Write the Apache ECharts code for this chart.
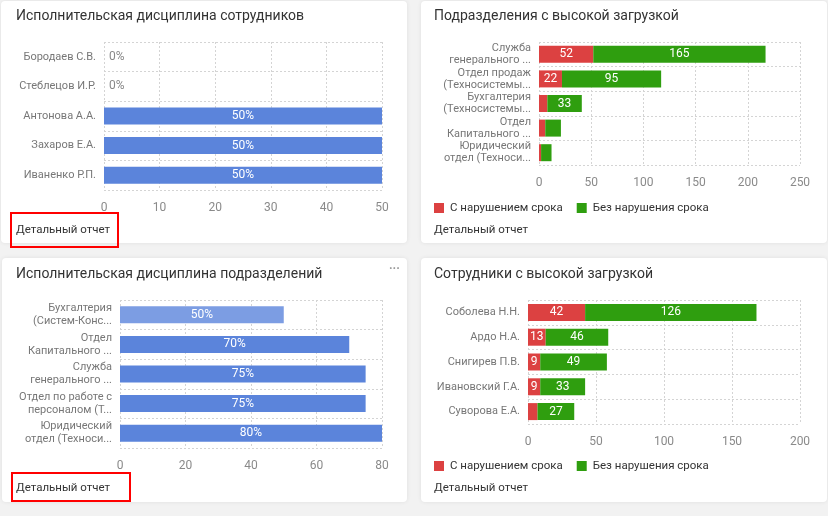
<!DOCTYPE html>
<html>
<head>
<meta charset="utf-8">
<script src="https://cdn.jsdelivr.net/npm/echarts@6/dist/echarts.min.js"></script>
<style>
html,body{margin:0;padding:0;background:#f2f2f2;}
#c{width:828px;height:516px;}
</style>
</head>
<body>
<div id="c"></div>
<script>
// ---- data ----
const empCategories = ['Бородаев С.В.', 'Стеблецов И.Р.', 'Антонова А.А.', 'Захаров Е.А.', 'Иваненко Р.П.'];
const empDiscipline = [0, 0, 50, 50, 50];

const deptLoadCategories = ['Служба\nгенерального ...', 'Отдел продаж\n(Техносистемы...', 'Бухгалтерия\n(Техносистемы...', 'Отдел\nКапитального ...', 'Юридический\nотдел (Техноси...'];
const deptLoadLate = [52, 22, 8, 6, 2];
const deptLoadOnTime = [165, 95, 33, 15, 10];

const deptDiscCategories = ['Бухгалтерия\n(Систем-Конс...', 'Отдел\nКапитального ...', 'Служба\nгенерального ...', 'Отдел по работе с\nперсоналом (Т...', 'Юридический\nотдел (Техноси...'];
const deptDiscipline = [50, 70, 75, 75, 80];

const empLoadCategories = ['Соболева Н.Н.', 'Ардо Н.А.', 'Снигирев П.В.', 'Ивановский Г.А.', 'Суворова Е.А.'];
const empLoadLate = [42, 13, 9, 9, 7];
const empLoadOnTime = [126, 46, 49, 33, 27];

const seriesNames = ['С нарушением срока', 'Без нарушения срока'];
const titles = ['Исполнительская дисциплина сотрудников', 'Подразделения с высокой загрузкой', 'Исполнительская дисциплина подразделений', 'Сотрудники с высокой загрузкой'];
const reportText = 'Детальный отчет';

// ---- styles ----
const FONT = 'Roboto';
const BLUE = '#5b84db', BLUE_LIGHT = '#7c9de3', RED = '#dc4141', GREEN = '#2f9e0f';
const splitStyle = {show: true, lineStyle: {color: '#d4d4d4', type: [2, 2], width: 1}};

function valueAxis(gi, max, interval) {
  return {
    type: 'value', gridIndex: gi, min: 0, max: max, interval: interval,
    axisLine: {show: false}, axisTick: {show: false},
    axisLabel: {color: '#8a8a8a', fontSize: 12, fontFamily: FONT, margin: 12},
    splitLine: splitStyle
  };
}
function catAxis(gi, cats, lh) {
  return {
    type: 'category', gridIndex: gi, data: cats, inverse: true,
    axisLine: {show: false}, axisTick: {show: false},
    axisLabel: {color: '#777', fontSize: 11, fontFamily: FONT, margin: 8, lineHeight: lh || 13},
    splitLine: splitStyle
  };
}
const lblWhite = {show: true, color: '#fff', fontSize: 12, fontFamily: FONT};

const panels = [[1, 1, 406, 242], [421, 1, 406, 242], [2, 258, 405, 244], [421, 258, 406, 244]];
const graphics = panels.map(p => ({
  type: 'rect', z: -10, shape: {x: p[0], y: p[1], width: p[2], height: p[3], r: 4},
  style: {fill: '#fff', shadowBlur: 4, shadowColor: 'rgba(0,0,0,0.08)'}
}));
const reportPos = [[16, 230], [434, 230], [16, 488], [434, 488]];
reportPos.forEach(p => graphics.push({
  type: 'text', x: p[0], y: p[1], z: 10,
  style: {text: reportText, fill: '#333', font: '11.5px "' + FONT + '"', verticalAlign: 'middle'}
}));
graphics.push({type: 'rect', z: 10, shape: {x: 11, y: 213, width: 107, height: 34}, style: {fill: 'none', stroke: '#f00', lineWidth: 2}});
graphics.push({type: 'rect', z: 10, shape: {x: 12, y: 473, width: 118, height: 28}, style: {fill: 'none', stroke: '#f00', lineWidth: 2}});
graphics.push({type: 'text', x: 389, y: 270, z: 10, style: {text: '···', fill: '#999', font: 'bold 12px "' + FONT + '"', verticalAlign: 'middle'}});

const titlePos = [[16, 9], [434, 9], [16, 267], [434, 267]];

const legendBase = {itemWidth: 10, itemHeight: 10, itemGap: 14, icon: 'rect', padding: 0, data: seriesNames,
  textStyle: {color: '#333', fontSize: 11.5, fontFamily: FONT, padding: [0, 0, 0, 1]}};

const option = {
  backgroundColor: '#f2f2f2',
  animation: false,
  textStyle: {fontFamily: FONT},
  title: titles.map((t, i) => ({
    text: t, left: titlePos[i][0], top: titlePos[i][1], padding: 0,
    textStyle: {fontSize: 14, fontWeight: 'normal', color: '#333', fontFamily: FONT}
  })),
  legend: [
    Object.assign({left: 434, top: 202}, legendBase),
    Object.assign({left: 434, top: 460}, legendBase)
  ],
  graphic: {elements: graphics},
  grid: [
    {left: 104, top: 42, width: 278, height: 148},
    {left: 539, top: 42, width: 261, height: 123},
    {left: 120, top: 300, width: 262, height: 148},
    {left: 528, top: 300, width: 272, height: 124}
  ],
  xAxis: [valueAxis(0, 50, 10), valueAxis(1, 250, 50), valueAxis(2, 80, 20), valueAxis(3, 200, 50)],
  yAxis: [catAxis(0, empCategories), catAxis(1, deptLoadCategories, 12), catAxis(2, deptDiscCategories, 13), catAxis(3, empLoadCategories)],
  series: [
    {type: 'bar', xAxisIndex: 0, yAxisIndex: 0, barWidth: 17, itemStyle: {color: BLUE},
     label: Object.assign({}, lblWhite, {position: 'inside', formatter: '{c}%'}),
     data: empDiscipline.map(v => v === 0 ? {value: v, label: {position: 'insideLeft', color: '#888'}} : v)},
    {type: 'bar', name: seriesNames[0], xAxisIndex: 1, yAxisIndex: 1, stack: 'a', barWidth: 17, itemStyle: {color: RED},
     label: Object.assign({}, lblWhite, {position: 'inside', formatter: p => p.value >= 20 ? p.value : ''}), data: deptLoadLate},
    {type: 'bar', name: seriesNames[1], xAxisIndex: 1, yAxisIndex: 1, stack: 'a', barWidth: 17, itemStyle: {color: GREEN},
     label: Object.assign({}, lblWhite, {position: 'inside', formatter: p => p.value >= 20 ? p.value : ''}), data: deptLoadOnTime},
    {type: 'bar', xAxisIndex: 2, yAxisIndex: 2, barWidth: 17, itemStyle: {color: BLUE},
     label: Object.assign({}, lblWhite, {position: 'inside', formatter: '{c}%'}),
     data: deptDiscipline.map((v, i) => i === 0 ? {value: v, itemStyle: {color: BLUE_LIGHT}} : v)},
    {type: 'bar', name: seriesNames[0], xAxisIndex: 3, yAxisIndex: 3, stack: 'b', barWidth: 17, itemStyle: {color: RED},
     label: Object.assign({}, lblWhite, {position: 'inside', formatter: p => p.value >= 9 ? p.value : ''}), data: empLoadLate},
    {type: 'bar', name: seriesNames[1], xAxisIndex: 3, yAxisIndex: 3, stack: 'b', barWidth: 17, itemStyle: {color: GREEN},
     label: Object.assign({}, lblWhite, {position: 'inside', formatter: p => p.value >= 9 ? p.value : ''}), data: empLoadOnTime}
  ]
};
const chart = echarts.init(document.getElementById('c'), null, {renderer: 'canvas'});
chart.setOption(option);
</script>
</body>
</html>
